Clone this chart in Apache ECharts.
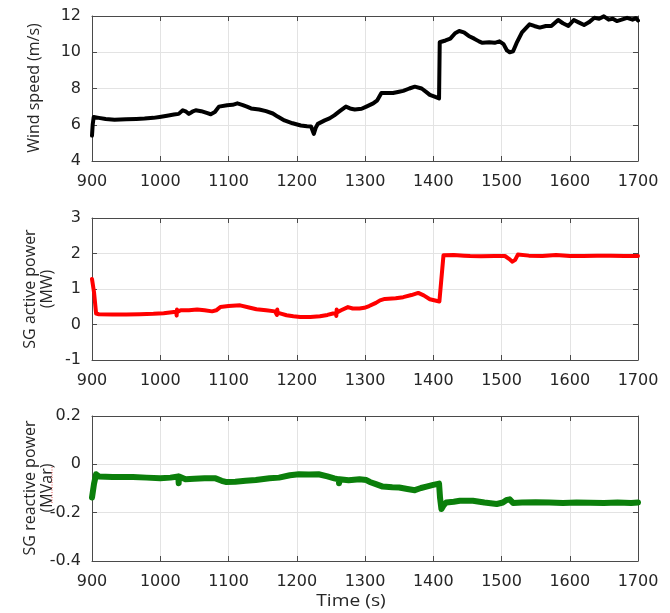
<!DOCTYPE html>
<html>
<head>
<meta charset="utf-8">
<title>Wind speed and SG power</title>
<script src="https://cdn.jsdelivr.net/npm/echarts@6/dist/echarts.min.js"></script>
<style>
  html, body { margin: 0; padding: 0; background: #fff; }
  #chart { width: 670px; height: 613px; }
</style>
</head>
<body>
<div id="chart"></div>
<script>
// Time axis ticks (s)
const timeTicks = [900, 1000, 1100, 1200, 1300, 1400, 1500, 1600, 1700];

// Wind speed (m/s)
const windTime = [900, 901, 902.5, 910, 920, 933, 950, 965, 977, 990, 999, 1010, 1020, 1027, 1033, 1038, 1042, 1047, 1052, 1060, 1068, 1074, 1080, 1086, 1098, 1106, 1113, 1120, 1127, 1133, 1145, 1155, 1165, 1172, 1182, 1194, 1206, 1215, 1221, 1225, 1228, 1231, 1241, 1248, 1255, 1263, 1272, 1278, 1285, 1295, 1302, 1312, 1318, 1324, 1341, 1350, 1356, 1365, 1373, 1383, 1390, 1395, 1402, 1408.5, 1409.5, 1418, 1425, 1432, 1438, 1445, 1452, 1460, 1467, 1472, 1482, 1490, 1497, 1503, 1508, 1512, 1517, 1522, 1530, 1541, 1548, 1556, 1565, 1573, 1583, 1590, 1598, 1606, 1613, 1621, 1628, 1636, 1643, 1650, 1657, 1663, 1669, 1676, 1684, 1692, 1697, 1700];
const windSpeed = [5.4, 6.0, 6.43, 6.38, 6.32, 6.28, 6.3, 6.32, 6.34, 6.38, 6.43, 6.5, 6.56, 6.6, 6.8, 6.72, 6.6, 6.72, 6.8, 6.75, 6.65, 6.58, 6.7, 7.0, 7.08, 7.1, 7.18, 7.1, 7.0, 6.9, 6.84, 6.75, 6.62, 6.45, 6.24, 6.08, 5.96, 5.92, 5.9, 5.5, 5.85, 6.05, 6.24, 6.35, 6.52, 6.75, 7.0, 6.9, 6.84, 6.88, 7.0, 7.18, 7.35, 7.75, 7.75, 7.82, 7.87, 8.0, 8.1, 8.0, 7.8, 7.65, 7.55, 7.45, 10.55, 10.65, 10.75, 11.05, 11.17, 11.1, 10.9, 10.75, 10.6, 10.52, 10.55, 10.52, 10.6, 10.45, 10.1, 10.0, 10.05, 10.5, 11.1, 11.54, 11.45, 11.36, 11.45, 11.45, 11.78, 11.6, 11.45, 11.78, 11.65, 11.5, 11.65, 11.9, 11.85, 11.98, 11.8, 11.85, 11.72, 11.8, 11.9, 11.8, 11.88, 11.75];
const windTicks = [4, 6, 8, 10, 12];

// SG active power (MW)
const activeTime = [900, 903, 906, 910, 930, 950, 970, 990, 1005, 1020, 1023.5, 1024, 1024.5, 1025, 1030, 1042, 1054, 1065, 1076, 1082, 1088, 1100, 1117, 1130, 1141, 1155, 1168, 1170.5, 1171, 1171.5, 1172, 1178, 1185, 1195, 1205, 1220, 1234, 1245, 1253, 1257.5, 1258, 1258.5, 1259, 1265, 1275, 1282, 1292, 1299, 1306, 1316, 1322, 1329, 1345, 1356, 1368, 1378, 1386, 1395, 1409, 1415, 1430, 1445, 1454, 1470, 1490, 1505, 1511, 1516, 1520, 1524, 1540, 1560, 1580, 1600, 1620, 1640, 1660, 1680, 1700];
const activePower = [1.28, 0.9, 0.31, 0.29, 0.28, 0.28, 0.29, 0.3, 0.32, 0.35, 0.35, 0.25, 0.42, 0.35, 0.4, 0.4, 0.42, 0.4, 0.37, 0.4, 0.49, 0.52, 0.54, 0.48, 0.43, 0.4, 0.37, 0.37, 0.27, 0.42, 0.33, 0.3, 0.26, 0.23, 0.21, 0.21, 0.23, 0.27, 0.31, 0.32, 0.24, 0.42, 0.34, 0.4, 0.49, 0.45, 0.45, 0.47, 0.52, 0.61, 0.68, 0.72, 0.74, 0.77, 0.83, 0.89, 0.82, 0.71, 0.65, 1.95, 1.96, 1.94, 1.93, 1.92, 1.93, 1.93, 1.85, 1.77, 1.82, 1.97, 1.94, 1.93, 1.96, 1.93, 1.93, 1.94, 1.94, 1.93, 1.93];
const activeTicks = [-1, 0, 1, 2, 3];

// SG reactive power (MVar)
const reactiveTime = [900, 903, 906, 910, 930, 960, 980, 1000, 1015, 1026.5, 1027, 1027.5, 1037, 1050, 1065, 1081, 1090, 1096, 1110, 1125, 1140, 1160, 1174, 1190, 1203, 1218, 1232, 1245, 1255, 1261.5, 1262, 1262.5, 1276, 1292, 1302, 1307, 1316, 1326, 1340, 1350, 1362, 1373, 1382, 1390, 1400, 1408.5, 1410, 1412, 1415, 1419, 1430, 1439, 1458, 1475, 1493, 1502, 1508, 1512, 1517, 1530, 1550, 1570, 1590, 1610, 1630, 1650, 1670, 1690, 1700];
const reactivePower = [-0.137, -0.08, -0.041, -0.05, -0.052, -0.052, -0.055, -0.058, -0.055, -0.05, -0.078, -0.05, -0.062, -0.06, -0.058, -0.058, -0.068, -0.073, -0.072, -0.068, -0.065, -0.058, -0.055, -0.045, -0.041, -0.042, -0.041, -0.05, -0.058, -0.062, -0.078, -0.062, -0.066, -0.062, -0.065, -0.073, -0.082, -0.092, -0.095, -0.096, -0.102, -0.107, -0.098, -0.092, -0.085, -0.08, -0.14, -0.185, -0.17, -0.158, -0.155, -0.151, -0.151, -0.158, -0.164, -0.158, -0.147, -0.145, -0.16, -0.158, -0.157, -0.158, -0.16, -0.158, -0.159, -0.16, -0.158, -0.16, -0.158];
const reactiveTicks = [-0.4, -0.2, 0, 0.2];

const pairs = (xs, ys) => xs.map((x, i) => [x, ys[i]]);

const AXIS_COLOR = '#4a4a4a';
const LABEL_COLOR = '#262626';
const GRID_COLOR = '#e3e3e3';
const TICK_FONT = 'DejaVu Sans';
const TITLE_FONT = 'Open Sans';

const grids = [
  { left: 92, right: 32, top: 16, height: 145 },
  { left: 92, right: 32, top: 218, height: 142 },
  { left: 92, right: 32, top: 416, height: 145 }
];

const yRanges = [
  { ticks: windTicks },
  { ticks: activeTicks },
  { ticks: reactiveTicks }
];

// plain numbers, no thousands separators
function fmt(v) {
  const r = Math.round(v * 1000) / 1000;
  return String(r);
}

const xAxes = [];
const yAxes = [];
grids.forEach((g, i) => {
  // bottom axis with labels
  xAxes.push({
    type: 'value', gridIndex: i, position: 'bottom',
    min: timeTicks[0], max: timeTicks[timeTicks.length - 1],
    interval: timeTicks[1] - timeTicks[0],
    axisLine: { show: true, onZero: false, lineStyle: { color: AXIS_COLOR, width: 1 } },
    axisTick: { show: true, inside: true, length: 5, lineStyle: { color: AXIS_COLOR } },
    axisLabel: { color: LABEL_COLOR, fontFamily: TICK_FONT, fontSize: 16, margin: 13, formatter: fmt },
    splitLine: { show: true, lineStyle: { color: GRID_COLOR, width: 1 } }
  });
  // top frame axis
  xAxes.push({
    type: 'value', gridIndex: i, position: 'top',
    min: timeTicks[0], max: timeTicks[timeTicks.length - 1],
    interval: timeTicks[1] - timeTicks[0],
    axisLine: { show: true, onZero: false, lineStyle: { color: AXIS_COLOR, width: 1 } },
    axisTick: { show: true, inside: true, length: 5, lineStyle: { color: AXIS_COLOR } },
    axisLabel: { show: false },
    splitLine: { show: false }
  });
  const t = yRanges[i].ticks;
  const yBase = {
    type: 'value', gridIndex: i,
    min: t[0], max: t[t.length - 1], interval: t[1] - t[0]
  };
  yAxes.push(Object.assign({}, yBase, {
    position: 'left',
    axisLine: { show: true, onZero: false, lineStyle: { color: AXIS_COLOR, width: 1 } },
    axisTick: { show: true, inside: true, length: 5, lineStyle: { color: AXIS_COLOR } },
    axisLabel: { color: LABEL_COLOR, fontFamily: TICK_FONT, fontSize: 16, margin: 11, formatter: fmt },
    splitLine: { show: true, lineStyle: { color: GRID_COLOR, width: 1 } }
  }));
  yAxes.push(Object.assign({}, yBase, {
    position: 'right',
    axisLine: { show: true, onZero: false, lineStyle: { color: AXIS_COLOR, width: 1 } },
    axisTick: { show: true, inside: true, length: 5, lineStyle: { color: AXIS_COLOR } },
    axisLabel: { show: false },
    splitLine: { show: false }
  }));
});

function lineSeries(i, data, color, width) {
  return {
    type: 'line', xAxisIndex: i * 2, yAxisIndex: i * 2,
    data: data, showSymbol: false, symbol: 'none', animation: false,
    lineStyle: { color: color, width: width, join: 'round', cap: 'round' },
    z: 3
  };
}

function yTitle(text, x, y) {
  return {
    type: 'text', x: x, y: y, rotation: Math.PI / 2,
    style: {
      text: text, fill: '#262626', font: '16px "' + TITLE_FONT + '"',
      align: 'center', verticalAlign: 'middle', lineHeight: 17
    }
  };
}

const option = {
  backgroundColor: '#ffffff',
  animation: false,
  grid: grids,
  xAxis: xAxes,
  yAxis: yAxes,
  series: [
    lineSeries(0, pairs(windTime, windSpeed), '#000000', 4),
    lineSeries(1, pairs(activeTime, activePower), '#ff0000', 4),
    lineSeries(2, pairs(reactiveTime, reactivePower), '#0b7f0b', 6)
  ],
  graphic: [
    yTitle('Wind speed (m/s)', 34, 88),
    yTitle('SG active power\n(MW)', 39, 289),
    yTitle('SG reactive power\n(MVar)', 39, 488),
    {
      type: 'line',
      shape: { x1: 52, y1: 467, x2: 52, y2: 503 },
      style: { stroke: '#e25555', lineWidth: 1, lineDash: [1, 1.5] }
    },
    {
      type: 'text', x: 351, y: 601, scaleX: 1.2,
      style: {
        text: 'Time (s)', fill: '#262626', font: '16px "' + TITLE_FONT + '"',
        align: 'center', verticalAlign: 'middle'
      }
    }
  ]
};

const chart = echarts.init(document.getElementById('chart'), null, { renderer: 'canvas' });
chart.setOption(option);
</script>
</body>
</html>
